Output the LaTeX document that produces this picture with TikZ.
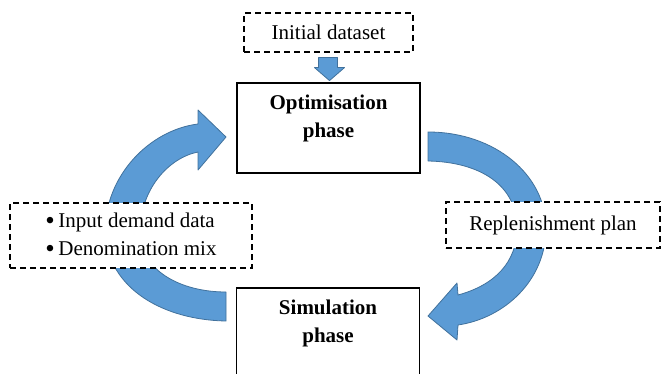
\documentclass[tikz,border=0pt]{standalone}
\usepackage{fontspec}
\setmainfont{Liberation Serif}
\usetikzlibrary{backgrounds}

\definecolor{arrowblue}{HTML}{5B9BD5}
\definecolor{arrowedge}{HTML}{41719C}
\newcommand{\bigdot}{\raisebox{-2pt}{\fontsize{27}{28}\selectfont\textbullet}}

\begin{document}
\begin{tikzpicture}[x=1pt, y=-1pt,
  every node/.style={font=\fontsize{21}{28}\selectfont},
  dashbox/.style={draw, dashed, dash pattern=on 6pt off 4pt, line width=1.2pt, fill=white, inner sep=0pt},
  phasebox/.style={draw, line width=1.5pt, fill=white, minimum width=183pt, minimum height=90pt},
  phaselabel/.style={font=\fontsize{21}{28}\selectfont\bfseries, align=center, yshift=10pt},
  blockarrow/.style={fill=arrowblue, draw=arrowedge, line width=0.8pt, line join=round}]
  \path[use as bounding box, clip] (0,0) rectangle (663,374);

  % boxes
  \node[dashbox, minimum width=169pt, minimum height=39pt] (init) at (328.5,32.5) {Initial dataset};
  \node[phasebox, label={[phaselabel]center:{Optimisation\\phase}}] (opt) at (328.5,128) {};
  \node[phasebox, label={[phaselabel]center:{Simulation\\phase}}] (sim) at (328,333) {};
  \node[dashbox, minimum width=242pt, minimum height=65pt, align=left] (input) at (131,235.5)
    {\bigdot\,Input demand data\\ \bigdot\,Denomination mix};
  \node[dashbox, minimum width=214pt, minimum height=46pt] (plan) at (553,225) {Replenishment plan};

  % block arrows
  \begin{scope}[on background layer]
    \draw[blockarrow, shift={(init.south)}]
      (-10,5) -- (9,5) -- (9,15) -- (16,15) -- (1,28) -- (-14,15) -- (-10,15) -- cycle;
    \draw[blockarrow]
      (428,132) .. controls (495,132) and (546,175) .. (546,228)
      .. controls (546,280) and (505,318) .. (458,325)
      -- (457,340) -- (428,316) -- (457,283) -- (458,295)
      .. controls (495,285) and (517,262) .. (517,228)
      .. controls (517,185) and (480,162) .. (428,161) -- cycle;
    \draw[blockarrow]
      (226,321) .. controls (165,320) and (108,290) .. (105,232)
      .. controls (105,175) and (150,130) .. (198,124)
      -- (198,110) -- (226,137) -- (198,170) -- (198,152)
      .. controls (168,158) and (140,190) .. (140,232)
      .. controls (140,270) and (180,292) .. (226,292) -- cycle;
  \end{scope}
\end{tikzpicture}
\end{document}
